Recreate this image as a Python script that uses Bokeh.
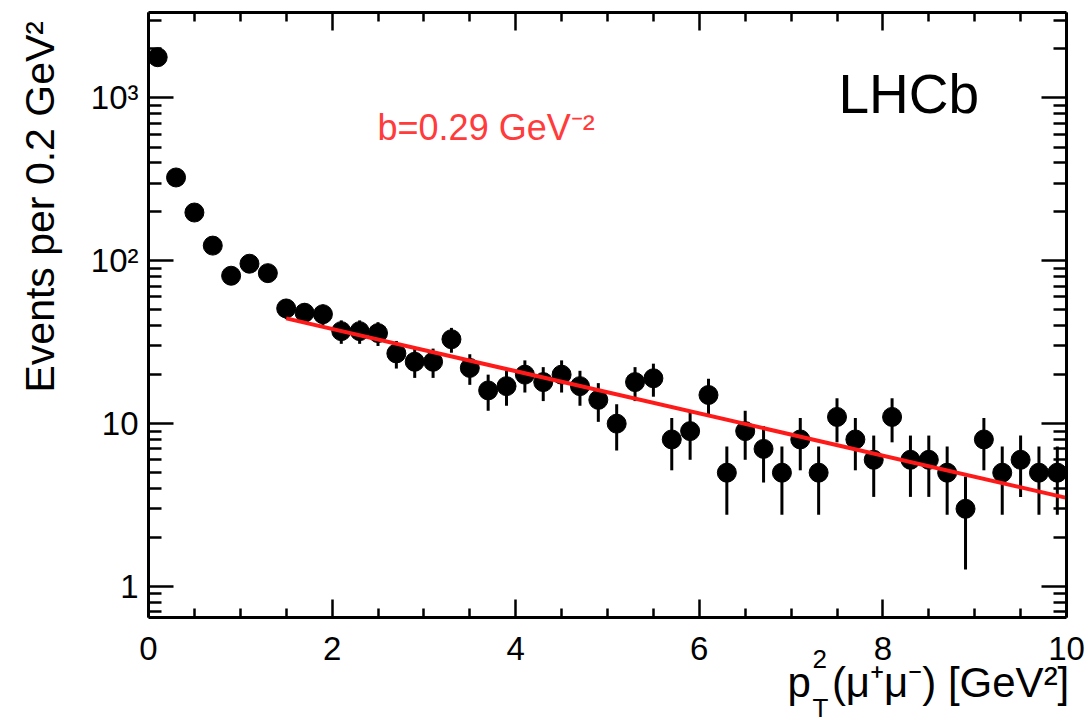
import math
from bokeh.plotting import figure
from bokeh.models import Range1d, LinearAxis, LogAxis, FixedTicker, Label, ColumnDataSource
from bokeh.embed import file_html
from bokeh.resources import INLINE

# ---- data ----
bin_centers = [0.1, 0.3, 0.5, 0.7, 0.9, 1.1, 1.3, 1.5, 1.7, 1.9,
               2.1, 2.3, 2.5, 2.7, 2.9, 3.1, 3.3, 3.5, 3.7, 3.9,
               4.1, 4.3, 4.5, 4.7, 4.9, 5.1, 5.3, 5.5, 5.7, 5.9,
               6.1, 6.3, 6.5, 6.7, 6.9, 7.1, 7.3, 7.5, 7.7, 7.9,
               8.1, 8.3, 8.5, 8.7, 8.9, 9.1, 9.3, 9.5, 9.7, 9.9]
counts = [1780, 325, 198, 124, 81, 96, 84, 51, 48, 47,
          37, 37, 36, 27, 24, 24, 33, 22, 16, 17,
          20, 18, 20, 17, 14, 10, 18, 19, 8, 9,
          15, 5, 9, 7, 5, 8, 5, 11, 8, 6,
          11, 6, 6, 5, 3, 8, 5, 6, 5, 5]
errors = [42.19, 18.03, 14.07, 11.14, 9.00, 9.80, 9.17, 7.14, 6.93, 6.86,
          6.08, 6.08, 6.00, 5.20, 4.90, 4.90, 5.74, 4.69, 4.00, 4.12,
          4.47, 4.24, 4.47, 4.12, 3.74, 3.16, 4.24, 4.36, 2.83, 3.00,
          3.87, 2.24, 3.00, 2.65, 2.24, 2.83, 2.24, 3.32, 2.83, 2.45,
          3.32, 2.45, 2.45, 2.24, 1.73, 2.83, 2.24, 2.45, 2.24, 2.24]
fit_x = [1.5, 10.0]
fit_y = [44.3, 3.5]

x_major = [0, 2, 4, 6, 8, 10]
x_minor = [0.5, 1, 1.5, 2.5, 3, 3.5, 4.5, 5, 5.5, 6.5, 7, 7.5, 8.5, 9, 9.5]
y_major = [1, 10, 100, 1000]
y_minor = [0.7, 0.8, 0.9, 2, 3, 4, 5, 6, 7, 8, 9, 20, 30, 40, 50, 60, 70, 80, 90,
           200, 300, 400, 500, 600, 700, 800, 900, 2000, 3000]
y_labels = {1: "1", 10: "10", 100: "10²", 1000: "10³"}

FONT = "Liberation Sans"

src = ColumnDataSource(dict(
    x=bin_centers, y=counts,
    lo=[c - e for c, e in zip(counts, errors)],
    hi=[c + e for c, e in zip(counts, errors)],
))

p = figure(width=1090, height=722, x_range=Range1d(0, 10), y_range=Range1d(0.645, 3350),
           y_axis_type="log", output_backend="svg", toolbar_location=None, title=None,
           min_border_left=148, min_border_right=24, min_border_top=12, min_border_bottom=105)
p.xgrid.visible = False
p.ygrid.visible = False
p.outline_line_color = None
p.background_fill_color = "white"
p.border_fill_color = "white"


def style(ax, major_in, minor_in, ticks=None):
    ax.axis_line_width = 3
    ax.axis_line_color = "black"
    ax.major_tick_line_width = 2.5
    ax.minor_tick_line_width = 2.5
    ax.major_tick_line_color = "black"
    ax.minor_tick_line_color = "black"
    ax.major_tick_in = major_in
    ax.major_tick_out = 0
    ax.minor_tick_in = minor_in
    ax.minor_tick_out = 0
    ax.major_label_text_font = FONT
    ax.major_label_text_color = "black"
    ax.major_label_text_font_size = "33px"
    if ticks is not None:
        ax.major_label_overrides = {t: "" for t in ticks}
        ax.major_label_standoff = 0
        ax.major_label_text_font_size = "8px"


xb = p.xaxis[0]
xb.ticker = FixedTicker(ticks=x_major, minor_ticks=x_minor)
style(xb, 18, 9)
xb.major_label_standoff = 19

yl = p.yaxis[0]
yl.ticker = FixedTicker(ticks=y_major, minor_ticks=y_minor)
yl.major_label_overrides = y_labels
style(yl, 25, 13)
yl.major_label_standoff = 10

xt = LinearAxis(ticker=FixedTicker(ticks=x_major, minor_ticks=x_minor))
style(xt, 18, 9, ticks=x_major)
p.add_layout(xt, "above")

yr = LogAxis(ticker=FixedTicker(ticks=y_major, minor_ticks=y_minor))
style(yr, 25, 13, ticks=y_major)
p.add_layout(yr, "right")

# error bars and points
p.segment(x0="x", y0="lo", x1="x", y1="hi", source=src, line_color="black", line_width=3)
p.scatter(x="x", y="y", source=src, marker="circle", size=19,
          fill_color="black", line_color="black")

# fit line
p.line(fit_x, fit_y, line_color="#ff1a1a", line_width=4)


def lab(x, y, text, size, where="center", **kw):
    l = Label(x=x, y=y, x_units="data", y_units="data", text=text,
              text_font=FONT, text_font_size=size, text_color="black",
              text_align="left", text_baseline="middle", **kw)
    p.add_layout(l, where)
    return l


lab(7.516, 1054, "LHCb", "55px")
l_b = lab(2.495, 655, "b=0.29 GeV⁻²", "36px")
l_b.text_color = "#ff3b3b"

# y-axis title (side panel so it is not clipped to the frame)
lab(-1.181, 15.54, "Events per 0.2 GeV²", "41px", where="left", angle=math.pi / 2)

# x-axis title: p_T^2(mu+mu-) [GeV^2]
lab(6.961, 0.2563, "p\u2002(μ⁺μ⁻) [GeV²]", "42px", where="below")
lab(7.233, 0.3566, "2", "26px", where="right")
lab(7.233, 0.1784, "T", "26px", where="left")

open("out.html", "w").write(file_html(p, INLINE))
